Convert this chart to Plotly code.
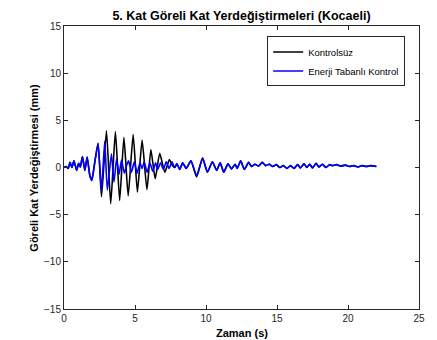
import plotly.graph_objects as go

# Enerji Tabanlı Kontrol (blue) key points
t_blue = [0, 0.15, 0.3, 0.42, 0.56, 0.7, 0.8, 0.89, 1.03, 1.15, 1.3, 1.47, 1.63, 1.82, 1.96,
          2.1, 2.2, 2.4, 2.64, 2.87, 3.05, 3.34, 3.52, 3.7, 3.88, 4.05, 4.25, 4.4, 4.55, 4.75,
          4.95, 5.15, 5.35, 5.5, 5.65, 5.85, 6.05, 6.25, 6.45, 6.6, 6.8, 7.0, 7.2, 7.4, 7.6,
          7.8, 7.95, 8.15, 8.36, 8.6, 8.94, 9.34, 9.76, 10.1, 10.45, 10.75, 11.0, 11.25, 11.55,
          11.8, 12.05, 12.2, 12.44, 12.7, 13.0, 13.2, 13.45, 13.7, 13.96, 14.2, 14.45, 14.7,
          14.95, 15.2, 15.45, 15.7, 15.95, 16.2, 16.45, 16.65, 16.9, 17.1, 17.3, 17.5, 17.75,
          17.95, 18.2, 18.45, 18.7, 18.9, 19.2, 19.5, 19.8, 20.1, 20.4, 20.7, 21.0, 21.3, 21.6, 22.0]
y_blue = [0, 0.1, -0.1, 0.55, 0.0, 0.7, 0.2, -0.3, 0.45, 0.05, 1.15, -0.3, 1.1, -0.85, -1.4,
          -0.2, 0.85, 2.5, -2.4, 2.8, -2.4, 1.45, -1.55, 0.9, -0.7, 0.8, -0.6, 0.2, 0.7, -0.5,
          0.6, -0.6, 0.5, -0.1, 0.6, -0.5, 0.5, -0.4, 0.5, -0.2, 0.5, -0.2, 0.6, -0.1, 0.6,
          0.0, 0.4, -0.2, 0.5, -0.1, 0.7, -0.85, 1.0, -0.5, 0.6, -0.3, 0.5, -0.5, 0.4,
          -0.15, 0.35, -0.1, 0.7, -0.2, 0.55, 0.1, 0.35, 0.15, 0.55, 0.2, 0.35, 0.1,
          0.3, 0.0, 0.2, -0.1, 0.2, -0.1, 0.3, -0.05, 0.4, 0.0, 0.35, -0.05, 0.45,
          0.05, 0.35, 0.0, 0.3, 0.2, 0.3, 0.15, 0.25, 0.1, 0.2, 0.05, 0.2, 0.1, 0.2, 0.1]

# Kontrolsüz (black) key points in the strong-motion window
t_black_mid = [1.96, 2.1, 2.2, 2.4, 2.64, 2.99, 3.29, 3.62, 3.92, 4.22, 4.52, 4.87, 5.17,
               5.5, 5.84, 6.12, 6.42, 6.74, 7.1, 7.42, 7.6]
y_black_mid = [-1.3, -0.1, 0.9, 2.6, -3.1, 3.9, -3.85, 3.8, -3.5, 3.2, -3.0, 3.5, -2.6,
               2.9, -2.35, 1.9, -1.2, 1.5, -0.5, 0.85, 0.3]

# black = blue outside the window, own values inside
t_black = [t for t in t_blue if t < 1.9] + t_black_mid + [t for t in t_blue if t > 7.7]
y_black = [y for t, y in zip(t_blue, y_blue) if t < 1.9] + y_black_mid + \
          [(-1.0 if t == 9.34 else y) for t, y in zip(t_blue, y_blue) if t > 7.7]

x_ticks = [0, 5, 10, 15, 20, 25]
y_ticks = [-15, -10, -5, 0, 5, 10, 15]

fig = go.Figure()
fig.add_trace(go.Scatter(x=t_black, y=y_black, mode="lines", name="Kontrolsüz",
                         line=dict(color="black", width=1.6, shape="spline", smoothing=0.5)))
fig.add_trace(go.Scatter(x=t_blue, y=y_blue, mode="lines", name="Enerji Tabanlı Kontrol",
                         line=dict(color="#0000ff", width=1.6, shape="spline", smoothing=0.5)))

axis_common = dict(showgrid=False, zeroline=False, showline=True, linecolor="#262626",
                   linewidth=1, mirror="ticks", ticks="inside", ticklen=4, tickcolor="#262626",
                   tickfont=dict(family="Liberation Sans, Arial", size=10, color="#262626"))

fig.update_layout(
    width=437, height=340,
    margin=dict(l=64, r=16, t=26, b=31),
    paper_bgcolor="white", plot_bgcolor="white",
    font=dict(family="Liberation Sans, Arial", color="#262626"),
    title=dict(text="<b>5. Kat Göreli Kat Yerdeğiştirmeleri (Kocaeli)</b>", x=0.5, xref="paper",
               y=1 - 16 / 340, yref="container", yanchor="middle", xanchor="center",
               font=dict(size=12.5, color="black")),
    xaxis=dict(range=[0, 25], tickvals=x_ticks, **axis_common),
    yaxis=dict(range=[-15, 15], tickvals=y_ticks, **axis_common),
    legend=dict(x=0.961, y=0.963, xanchor="right", yanchor="top", bgcolor="white",
                bordercolor="#262626", borderwidth=1, font=dict(size=9.5, color="black"),
                tracegroupgap=0, itemwidth=30),
    showlegend=True,
    annotations=[
        dict(text="<b>Zaman (s)</b>", x=0.5, y=-(333 - 309) / 283, xref="paper", yref="paper",
             showarrow=False, xanchor="center", yanchor="middle", font=dict(size=11, color="black")),
        dict(text="<b>Göreli Kat Yerdeğiştirmesi (mm)</b>", x=(33 - 64) / 357, y=0.5,
             xref="paper", yref="paper", showarrow=False, textangle=-90, xanchor="center",
             yanchor="middle", font=dict(size=11, color="black")),
    ],
)

fig.write_html("out.html", config={"displayModeBar": False},
               post_script="document.body.style.margin='0px';document.body.style.overflow='hidden';")
